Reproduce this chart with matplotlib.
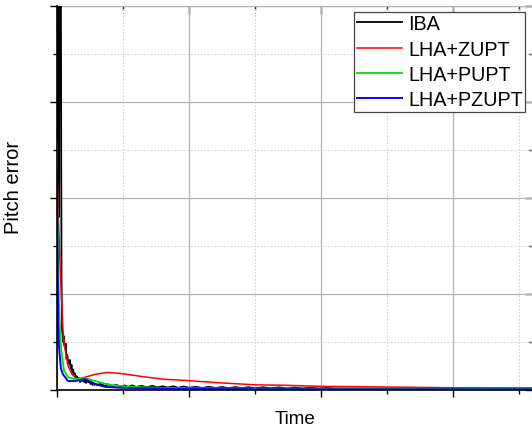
import numpy as np
import matplotlib.pyplot as plt
from matplotlib.ticker import MultipleLocator, NullFormatter

plt.rcParams['font.family'] = ['Liberation Sans', 'DejaVu Sans']

# 时间轴 (s)
t_iba = [0, 4, 10, 16, 22, 28, 34, 38, 42, 46, 50, 55, 61, 66, 72, 78, 83, 90,
         97, 104, 110, 116, 122, 128, 136, 143, 150, 159, 167, 175, 183, 190,
         198, 206, 212, 220, 228, 236, 244, 252, 260, 268, 276, 284, 292, 300,
         330, 360, 390, 420, 450, 480, 510, 540, 570, 600, 640, 680, 720, 760,
         800, 840, 880, 920, 960, 1000, 1050, 1100, 1150, 1200, 1250, 1300,
         1350, 1400, 1450, 1500, 1560, 1620, 1680, 1740, 1800, 1860, 1920,
         1980, 2040, 2100, 2400, 2800, 3200, 3600]
iba = [2.6, 9.0, 3.0, 1.8, 9.0, 5.0, 1.2, 0.62, 0.58, 0.5, 0.56, 0.47, 0.43,
       0.48, 0.32, 0.36, 0.30, 0.27, 0.31, 0.22, 0.26, 0.18, 0.21, 0.16, 0.17,
       0.12, 0.14, 0.10, 0.12, 0.08, 0.11, 0.09, 0.12, 0.08, 0.10, 0.07, 0.11,
       0.08, 0.09, 0.06, 0.08, 0.05, 0.07, 0.05, 0.06, 0.05,
       0.06, 0.04, 0.055, 0.035, 0.05, 0.03, 0.045, 0.03, 0.045, 0.028, 0.04,
       0.025, 0.04, 0.025, 0.035, 0.022, 0.035, 0.02, 0.033, 0.02, 0.03, 0.018,
       0.03, 0.018, 0.028, 0.016, 0.027, 0.016, 0.026, 0.015, 0.025, 0.015,
       0.024, 0.014, 0.022, 0.014, 0.02, 0.013, 0.018, 0.013, 0.012, 0.011,
       0.01, 0.01]

t_zupt = [0, 8, 23, 38, 45, 53, 61, 83, 114, 136, 159, 212, 288, 379, 477,
          629, 800, 1000, 1250, 1515, 1700, 2000, 2500, 3000, 3600]
zupt = [2.3, 1.9, 1.3, 0.85, 0.63, 0.5, 0.42, 0.25, 0.16, 0.13, 0.11, 0.13,
        0.16, 0.18, 0.17, 0.14, 0.11, 0.094, 0.07, 0.05, 0.047, 0.035, 0.028,
        0.02, 0.018]

t_pupt = [0, 8, 15, 23, 30, 38, 53, 83, 136, 212, 288, 402, 553, 800, 1000,
          1500, 2000, 3000, 3600]
pupt = [2.2, 1.4, 0.9, 0.6, 0.45, 0.35, 0.2, 0.13, 0.11, 0.12, 0.09, 0.05,
        0.03, 0.02, 0.015, 0.012, 0.01, 0.008, 0.008]

t_pzupt = [0, 4, 8, 15, 23, 30, 45, 83, 136, 212, 288, 364, 477, 629, 1000,
           1500, 2500, 3600]
pzupt = [2.25, 1.5, 0.73, 0.45, 0.32, 0.22, 0.16, 0.09, 0.09, 0.11, 0.06, 0.03,
         0.02, 0.015, 0.008, 0.005, 0.004, 0.004]

fig = plt.figure(figsize=(5.32, 4.31), dpi=100)
ax = fig.add_axes([57 / 532, 1 - 390.7 / 431, 475.5 / 532, 384 / 431])

ax.plot(t_iba, iba, color='black', lw=1.3, label='IBA')
ax.plot(t_zupt, zupt, color='#ff0000', lw=1.1, label='LHA+ZUPT')
ax.plot(t_pupt, pupt, color='#00e000', lw=1.3, label='LHA+PUPT')
ax.plot(t_pzupt, pzupt, color='#0000ff', lw=1.4, label='LHA+PZUPT')

ax.set_xlim(0, 3600)
ax.set_ylim(0, 4)

def set_locators(axis, major, minor):
    axis.set_major_locator(MultipleLocator(major))
    axis.set_minor_locator(MultipleLocator(minor))
    axis.set_major_formatter(NullFormatter())

set_locators(ax.xaxis, 1000, 500)
set_locators(ax.yaxis, 1, 0.5)

ax.grid(which='major', color='#b4b4b4', lw=0.9, ls='-')
ax.grid(which='minor', color='#d4d4d4', lw=0.8, ls=(0, (1.5, 1.5)))
ax.set_axisbelow(True)

# 下/左刻度朝外
ax.tick_params(which='major', direction='out', length=5, width=1.0)
ax.tick_params(which='minor', direction='out', length=3, width=1.0)

# 上/右刻度朝内
top = ax.secondary_xaxis('top')
right = ax.secondary_yaxis('right')
set_locators(top.xaxis, 1000, 500)
set_locators(right.yaxis, 1, 0.5)
for sec in (top, right):
    sec.tick_params(which='major', direction='in', length=6, width=1.0)
    sec.tick_params(which='minor', direction='in', length=3, width=1.0)
top.spines['top'].set_color('#555555')
right.spines['right'].set_color('#555555')
ax.spines['top'].set_visible(False)
ax.spines['right'].set_visible(False)
for side in ('left', 'bottom'):
    ax.spines[side].set_color('black')
    ax.spines[side].set_linewidth(1.2)

ax.set_xlabel('Time', fontsize=13.5)
ax.set_ylabel('Pitch error', fontsize=14.5)
ax.xaxis.set_label_coords(0.5, -0.054)
ax.yaxis.set_label_coords(-0.072, 0.53)

leg = ax.legend(loc='upper right', bbox_to_anchor=(525 / 532, 1 - 13 / 431),
                bbox_transform=fig.transFigure, fontsize=14.2, frameon=True,
                fancybox=False, framealpha=1, edgecolor='#444444',
                handlelength=2.3, handletextpad=0.3, labelspacing=0.32,
                borderpad=0.12, borderaxespad=0)
leg.get_frame().set_linewidth(0.9)
leg.set_zorder(5)

fig.savefig('out.png', dpi=100)
